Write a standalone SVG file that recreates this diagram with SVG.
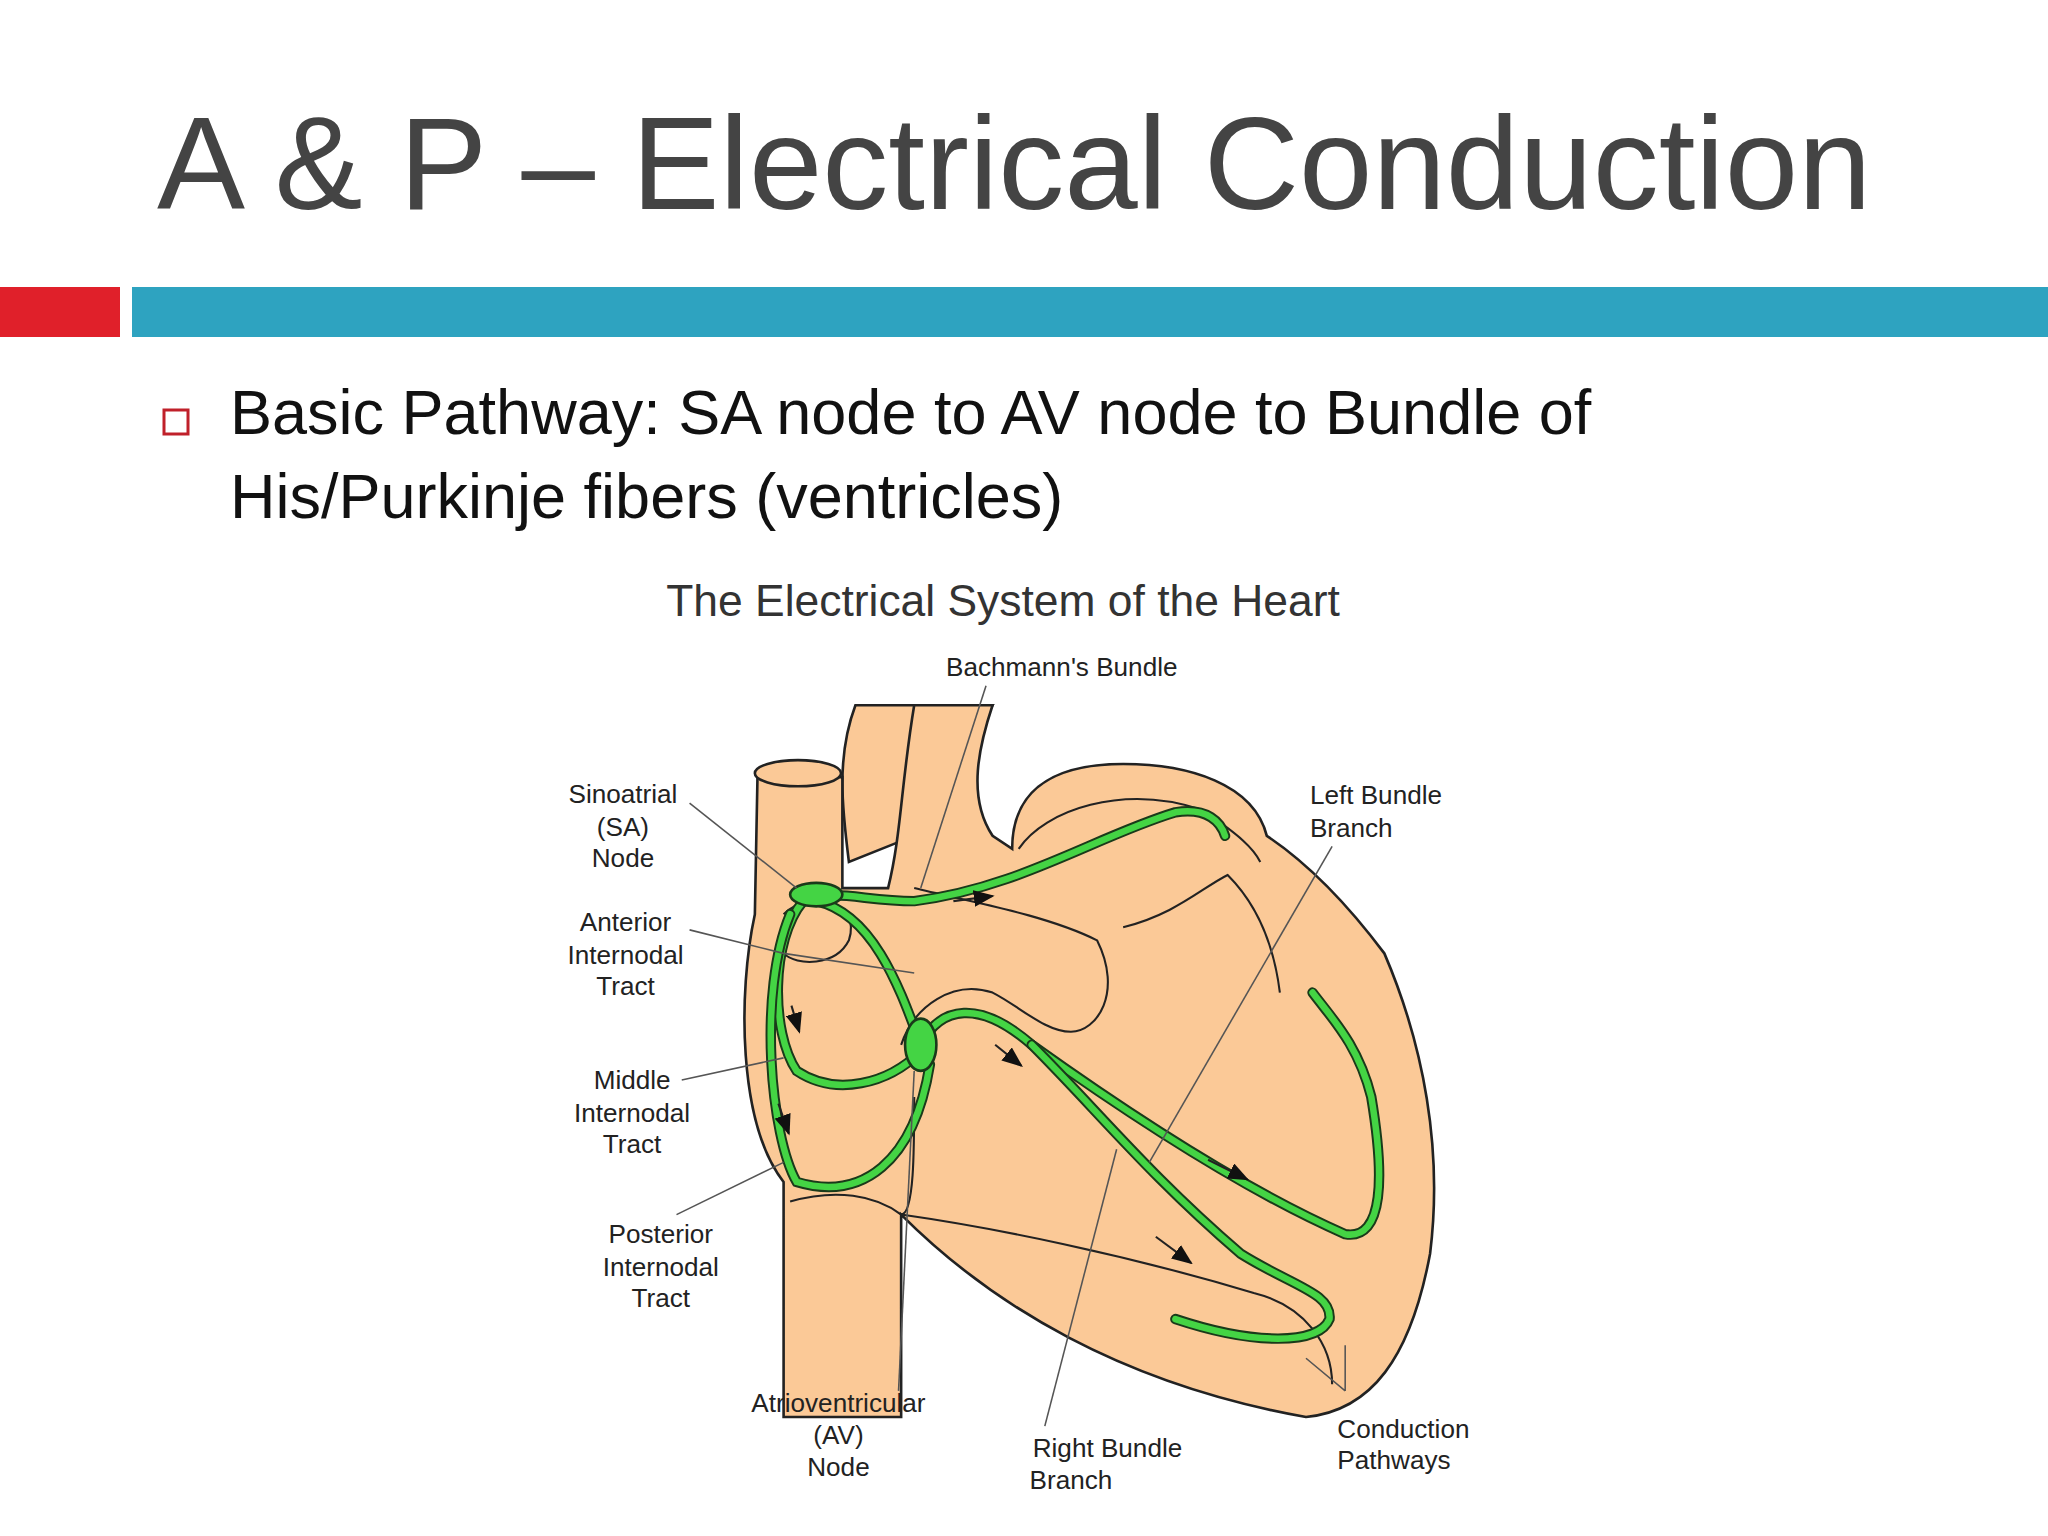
<svg xmlns="http://www.w3.org/2000/svg" width="2048" height="1536" viewBox="0 0 2048 1536">
<style>
.t{font-family:"Liberation Sans",Arial,sans-serif;fill:#444}
.lb{font-family:"Liberation Sans",Arial,sans-serif;fill:#222;font-size:20px;text-anchor:middle}
.h{fill:#fbc997;stroke:#222;stroke-width:2}
.ln{fill:none;stroke:#222;stroke-width:1.6}
.lead{fill:none;stroke:#555;stroke-width:1.2}
.go{fill:none;stroke:#1a3a1a;stroke-width:8;stroke-linecap:round}
.gi{fill:none;stroke:#44d444;stroke-width:5;stroke-linecap:round}
</style>
<defs><marker id="ar" markerWidth="10" markerHeight="8" refX="9" refY="4" orient="auto"><path d="M0,0 L10,4 L0,8 Z" fill="#111"/></marker></defs>
<rect width="2048" height="1536" fill="#fff"/>
<text class="t" x="157" y="209" font-size="132">A &amp; P – Electrical Conduction</text>
<rect x="0" y="287" width="120" height="50" fill="#e0202a"/>
<rect x="132" y="287" width="1916" height="50" fill="#2ea3c0"/>
<rect x="164" y="410" width="24" height="24" fill="none" stroke="#c0202a" stroke-width="3"/>
<text class="t" x="230" y="434" font-size="63" fill="#111" style="fill:#111">Basic Pathway: SA node to AV node to Bundle of</text>
<text class="t" x="230" y="518" font-size="63" style="fill:#111">His/Purkinje fibers (ventricles)</text>
<g transform="scale(1.306)">
<text class="t" x="768" y="472" font-size="34" text-anchor="middle" style="fill:#333">The Electrical System of the Heart</text>
<g id="heart">
<path class="h" d="M655,540 C640,580 645,620 650,660 L700,640 C720,600 750,560 760,540 Z"/>
<path class="h" d="M580,595 L578,700 C565,760 565,860 600,905 L600,1085 L690,1085 L690,930 C760,1000 860,1060 1000,1085 C1050,1080 1080,1040 1095,960 C1105,880 1090,800 1060,730 C1030,690 1000,660 970,640 C960,600 910,585 860,585 C800,585 775,610 775,650 L760,640 C740,610 750,570 760,540 L700,540 C690,600 690,640 680,680 L645,680 L645,595 Z"/>
<ellipse cx="611" cy="592" rx="33" ry="10" class="h"/>
<path class="ln" d="M700,680 C740,690 800,700 840,720 C860,760 840,790 820,790 C800,790 780,770 760,760 C730,750 700,770 690,800"/>
<path class="ln" d="M780,650 C800,620 860,600 920,620 C950,640 960,650 965,660"/>
<path class="ln" d="M860,710 C900,700 920,680 940,670 C960,690 975,720 980,760"/>
<path class="ln" d="M700,840 C700,880 700,930 690,930"/>
<path class="ln" d="M690,930 C760,940 860,960 960,990 C1000,1000 1020,1030 1020,1060"/>
<path class="ln" d="M605,920 C640,910 670,915 690,930"/>
<path class="ln" d="M600,700 C620,680 660,690 650,720 C640,740 610,740 600,730"/>
</g>
<g id="conduction">
<path class="go" d="M615,690 C640,680 660,690 700,690 C780,680 840,640 900,622 C925,618 935,630 938,640"/>
<path class="gi" d="M615,690 C640,680 660,690 700,690 C780,680 840,640 900,622 C925,618 935,630 938,640"/>
<path class="go" d="M615,690 C590,720 590,790 610,820 C640,840 680,830 705,805"/>
<path class="gi" d="M615,690 C590,720 590,790 610,820 C640,840 680,830 705,805"/>
<path class="go" d="M625,690 C670,700 690,760 705,800"/>
<path class="gi" d="M625,690 C670,700 690,760 705,800"/>
<path class="go" d="M605,700 C580,760 590,870 610,905 C660,920 700,890 712,815"/>
<path class="gi" d="M605,700 C580,760 590,870 610,905 C660,920 700,890 712,815"/>
<path class="go" d="M705,800 C720,770 750,765 790,800 C860,850 950,910 1030,945 C1060,950 1060,900 1050,840 C1040,800 1020,780 1005,760"/>
<path class="gi" d="M705,800 C720,770 750,765 790,800 C860,850 950,910 1030,945 C1060,950 1060,900 1050,840 C1040,800 1020,780 1005,760"/>
<path class="go" d="M790,800 C840,850 880,900 950,960 C990,985 1020,990 1018,1010 C1010,1030 960,1030 900,1010"/>
<path class="gi" d="M790,800 C840,850 880,900 950,960 C990,985 1020,990 1018,1010 C1010,1030 960,1030 900,1010"/>
<ellipse cx="625" cy="685" rx="20" ry="9" fill="#44d444" stroke="#1a3a1a" stroke-width="2"/>
<ellipse cx="705" cy="800" rx="12" ry="20" fill="#44d444" stroke="#1a3a1a" stroke-width="2"/>
<g class="ln" stroke="#111" stroke-width="2">
<path d="M730,690 L760,686" marker-end="url(#ar)"/>
<path d="M606,770 L612,790" marker-end="url(#ar)"/>
<path d="M596,845 L604,868" marker-end="url(#ar)"/>
<path d="M762,800 L782,816" marker-end="url(#ar)"/>
<path d="M925,888 L955,903" marker-end="url(#ar)"/>
<path d="M885,947 L912,967" marker-end="url(#ar)"/>
</g>
</g>
<g id="labels">
<text class="lb" x="813" y="518">Bachmann's Bundle</text>
<path class="lead" d="M755,525 L705,680"/>
<text class="lb" x="477" y="615">Sinoatrial</text><text class="lb" x="477" y="640">(SA)</text><text class="lb" x="477" y="664">Node</text>
<path class="lead" d="M528,615 L610,680"/>
<text class="lb" x="479" y="713">Anterior</text><text class="lb" x="479" y="738">Internodal</text><text class="lb" x="479" y="762">Tract</text>
<path class="lead" d="M528,712 L600,730 L700,745"/>
<text class="lb" x="484" y="834">Middle</text><text class="lb" x="484" y="859">Internodal</text><text class="lb" x="484" y="883">Tract</text>
<path class="lead" d="M522,827 L600,810"/>
<text class="lb" x="506" y="952">Posterior</text><text class="lb" x="506" y="977">Internodal</text><text class="lb" x="506" y="1001">Tract</text>
<path class="lead" d="M518,930 L600,890"/>
<text class="lb" x="642" y="1081">Atrioventricular</text><text class="lb" x="642" y="1106">(AV)</text><text class="lb" x="642" y="1130">Node</text>
<path class="lead" d="M688,1065 L700,820"/>
<text class="lb" x="848" y="1116">Right Bundle</text><text class="lb" x="820" y="1140">Branch</text>
<path class="lead" d="M800,1092 L855,880"/>
<text class="lb" x="1058" y="616" style="text-anchor:start" transform="translate(-55 0)">Left Bundle</text><text class="lb" x="1003" y="641" style="text-anchor:start">Branch</text>
<path class="lead" d="M1020,648 L880,890"/>
<text class="lb" x="1024" y="1101" style="text-anchor:start">Conduction</text><text class="lb" x="1024" y="1125" style="text-anchor:start">Pathways</text>
<path class="lead" d="M1030,1065 L1000,1040 M1030,1065 L1030,1030"/>
</g>
</g>
</svg>
